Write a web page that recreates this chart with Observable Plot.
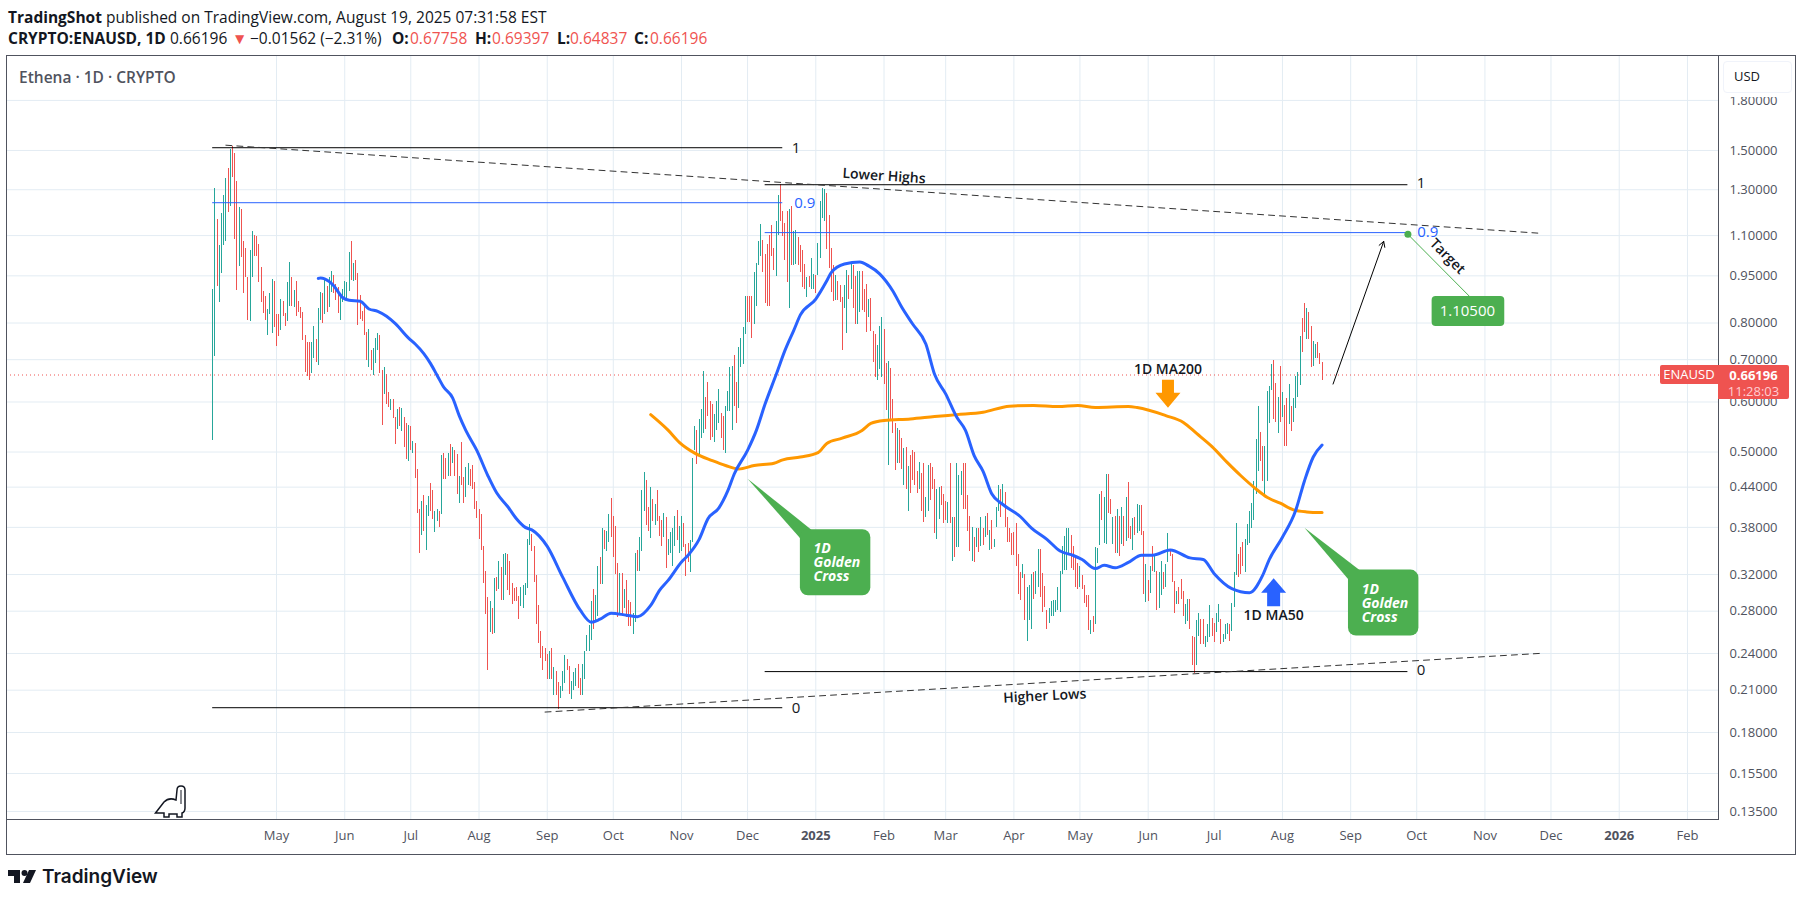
<!DOCTYPE html>
<html>
<head>
<meta charset="utf-8">
<script src="https://cdn.jsdelivr.net/npm/d3@7"></script>
<script src="https://cdn.jsdelivr.net/npm/@observablehq/plot@0.6"></script>
<style>
  html, body { margin: 0; background: #fff; }
  #page { position: relative; width: 1804px; height: 901px; overflow: hidden; font-family: "Open Sans", sans-serif; color: #131722; }
  #page > span, #page > div { position: absolute; white-space: nowrap; }
  #chart { left: 0; top: 55px; }
  #chart svg { background: transparent; display: block; }
  .hd { font-size: 15.5px; line-height: 16px; }
  .b { font-weight: 700; }
  .r { color: #ef5350; }
</style>
</head>
<body>
<div id="page">
  <span class="hd" style="left:8px;top:9px"><span class="b">TradingShot</span> published on TradingView.com, August 19, 2025 07:31:58 EST</span>
  <span class="hd b" style="left:8px;top:30px">CRYPTO:ENAUSD, 1D</span>
  <span class="hd" style="left:170px;top:30px">0.66196</span>
  <span class="hd r" style="left:232px;top:30px">▼</span>
  <span class="hd" style="left:250px;top:30px">−0.01562 (−2.31%)</span>
  <span class="hd b" style="left:392px;top:30px">O:</span><span class="hd r" style="left:410px;top:30px">0.67758</span>
  <span class="hd b" style="left:475px;top:30px">H:</span><span class="hd r" style="left:492px;top:30px">0.69397</span>
  <span class="hd b" style="left:557px;top:30px">L:</span><span class="hd r" style="left:570px;top:30px">0.64837</span>
  <span class="hd b" style="left:634px;top:30px">C:</span><span class="hd r" style="left:650px;top:30px">0.66196</span>
  <div id="chart"></div>
  <div style="left:6px;top:55px;width:1788px;height:798px;border:1px solid #50535e"></div>
  <span style="left:19px;top:68px;font-size:15.5px;line-height:18px;font-weight:600;color:#50535e">Ethena · 1D · CRYPTO</span>
  <div style="left:1719px;top:56px;width:75px;height:41px;background:#fff"></div>
  <div style="left:1723px;top:61px;width:67px;height:30px;border:1px solid #f0f3fa;border-radius:4px;background:#fff"></div>
  <span style="left:1734px;top:67px;font-size:13px;line-height:18px">USD</span>
  <div style="left:1660px;top:365px;width:58px;height:19px;background:#ef5350;border-radius:2px 0 0 2px;color:#fff;font-size:13px;line-height:19px;text-align:center">ENAUSD</div>
  <div style="left:1718px;top:365px;width:71px;height:34px;background:#ef5350;border-radius:0 2px 2px 0;color:#fff;font-size:13px;line-height:16px;text-align:center"><div style="font-weight:700;margin-top:2px">0.66196</div><div style="color:#ffcdd2">11:28:03</div></div>
  <svg style="position:absolute;left:150px;top:782px" width="40" height="38" viewBox="0 0 40 38">
    <path d="M5.500 31 L14 20 Q19 15 26 18 L27 8 Q27 4 31 4 Q35 4 35 8 L35 26 Q35 30 32 31 L32 35 L27 35 L27 32 L19 32 L19 35 L14 35 L14 31 Z" fill="#fff" stroke="#131722" stroke-width="1.5"/>
    <path d="M31 8 L31 22" fill="none" stroke="#131722" stroke-width="1"/>
  </svg>
  <svg style="position:absolute;left:8px;top:869px" width="30" height="16" viewBox="0 0 30 16">
    <path d="M0 1 H12 V14 H6 V7 H0 Z" fill="#131722"/><circle cx="16.500" cy="4" r="3" fill="#131722"/>
    <path d="M21 1 H28 L22 14 H15 Z" fill="#131722"/>
  </svg>
  <span style="left:42px;top:864px;font-family:Inter,sans-serif;font-weight:600;font-size:19px;line-height:26px;color:#131722">TradingView</span>
</div>
<script>
const plotFont = '"Open Sans", sans-serif'

// daily candles, first one on this date
const firstCandle = '2024-04-02'
const candleHigh = [
  .905,1.305,1.167,1.060,1.191,1.272,1.355,1.403,1.505,1.522,
  1.486,1.342,1.220,1.211,1.075,1.051,.945,1.040,1.116,1.102,
  1.095,1.064,.981,.898,.881,.840,.890,.938,.931,.825,
  .825,.872,.865,.828,.928,.999,.945,.901,.931,.865,
  .846,.831,.765,.745,.745,.745,.789,.753,.843,.895,
  .890,.933,.914,.945,.966,.950,.920,.910,.890,.905,
  .931,.928,1.035,1.078,.993,1.003,.958,.885,.834,.852,
  .772,.782,.725,.728,.755,.769,.765,.672,.680,.663,
  .620,.606,.606,.568,.584,.589,.586,.568,.554,.550,
  .548,.520,.516,.470,.405,.418,.427,.412,.425,.446,
  .435,.402,.405,.403,.494,.498,.489,.498,.514,.508,
  .503,.496,.458,.518,.456,.473,.480,.469,.476,.448,
  .417,.405,.398,.355,.324,.294,.290,.283,.315,.316,
  .336,.328,.344,.346,.344,.336,.310,.304,.305,.295,
  .305,.308,.310,.364,.384,.370,.354,.319,.286,.260,
  .246,.244,.239,.242,.244,.228,.225,.216,.213,.225,
  .238,.235,.229,.217,.224,.227,.231,.219,.231,.242,
  .256,.266,.290,.303,.296,.329,.341,.378,.376,.374,
  .398,.422,.396,.381,.333,.321,.321,.303,.313,.291,
  .289,.278,.345,.349,.366,.434,.464,.451,.409,.440,
  .420,.413,.435,.396,.389,.399,.394,.364,.373,.378,
  .396,.404,.381,.395,.385,.357,.358,.362,.488,.548,
  .540,.562,.583,.670,.611,.645,.600,.594,.573,.600,
  .627,.576,.569,.590,.623,.680,.683,.711,.643,.731,
  .755,.786,.881,.881,.881,.881,.963,.994,1.075,1.144,
  1.080,1.026,1.064,1.100,1.140,1.051,1.158,1.275,1.325,1.199,
  1.150,1.203,1.210,1.224,1.116,1.122,1.092,1.062,1.040,.990,
  .945,.949,1.011,.955,.951,1.069,1.247,1.305,1.302,1.284,
  1.184,1.049,.987,.951,.931,.916,.879,.916,.969,.951,
  .995,.987,.949,.966,.964,.966,.905,.920,.872,.875,
  .777,.767,.738,.791,.816,.781,.690,.695,.677,.606,
  .555,.545,.540,.525,.506,.508,.474,.494,.503,.500,
  .465,.482,.462,.479,.424,.476,.479,.473,.453,.437,
  .440,.441,.429,.418,.416,.479,.394,.394,.479,.459,
  .466,.479,.480,.427,.395,.380,.366,.379,.378,.394,
  .378,.396,.399,.376,.389,.363,.409,.442,.437,.445,
  .432,.394,.378,.371,.373,.385,.344,.322,.332,.320,
  .305,.308,.320,.322,.324,.350,.350,.321,.306,.281,
  .283,.290,.291,.291,.305,.324,.355,.367,.378,.379,
  .369,.355,.341,.333,.329,.319,.308,.297,.297,.271,
  .275,.353,.352,.428,.433,.423,.460,.460,.421,.394,
  .396,.405,.396,.408,.396,.423,.447,.381,.392,.394,
  .413,.412,.412,.375,.332,.313,.330,.355,.344,.324,
  .322,.336,.322,.332,.372,.351,.344,.312,.301,.305,
  .314,.301,.287,.292,.292,.255,.254,.271,.278,.272,
  .272,.255,.267,.286,.273,.268,.278,.287,.272,.257,
  .267,.268,.267,.288,.322,.386,.344,.353,.360,.363,
  .384,.403,.415,.449,.523,.591,.536,.510,.510,.624,
  .635,.687,.697,.642,.609,.682,.621,.593,.607,.640,
  .591,.607,.658,.669,.763,.812,.858,.842,.830,.789,
  .749,.740,.745,.716,.694]
const candleLow = [
  .521,.707,.914,.863,.959,1.060,1.075,1.198,1.224,1.358,
  1.083,.901,.984,1.017,.890,.943,.806,.803,.945,1.021,
  1.021,.928,.863,.828,.807,.765,.825,.769,.786,.734,
  .763,.778,.819,.789,.804,.849,.849,.846,.819,.831,
  .812,.750,.667,.658,.648,.665,.704,.694,.686,.806,
  .798,.826,.831,.846,.895,.890,.867,.828,.807,.863,
  .872,.867,.898,.935,.931,.935,.792,.810,.804,.765,
  .697,.680,.672,.660,.690,.723,.665,.551,.617,.595,
  .589,.581,.565,.514,.542,.548,.538,.509,.487,.483,
  .503,.498,.454,.400,.346,.369,.375,.349,.396,.403,
  .391,.373,.388,.380,.398,.453,.453,.458,.458,.480,
  .457,.429,.414,.443,.414,.423,.443,.441,.437,.406,
  .392,.364,.349,.310,.277,.226,.259,.257,.258,.301,
  .303,.291,.291,.319,.302,.296,.287,.290,.290,.272,
  .285,.283,.297,.304,.356,.348,.311,.267,.249,.236,
  .226,.233,.218,.218,.218,.206,.206,.196,.204,.209,
  .215,.226,.207,.203,.210,.213,.211,.206,.206,.218,
  .242,.242,.252,.262,.271,.275,.309,.309,.350,.348,
  .359,.366,.340,.320,.274,.276,.275,.283,.274,.265,
  .265,.257,.269,.323,.323,.348,.402,.382,.374,.365,
  .388,.382,.388,.367,.355,.366,.327,.343,.346,.329,
  .355,.362,.346,.348,.353,.318,.334,.322,.360,.502,
  .477,.490,.525,.535,.542,.569,.522,.528,.518,.541,
  .555,.525,.503,.498,.580,.580,.541,.590,.555,.586,
  .680,.687,.767,.801,.801,.755,.796,.849,.987,1.021,
  .963,.860,.849,.851,1.021,.969,.948,1.100,1.158,1.095,
  1.006,.928,.842,.987,.987,.990,.987,.963,.910,.905,
  .877,.910,.905,.905,.891,.951,1.013,1.172,1.158,1.044,
  .976,.895,.864,.867,.867,.862,.723,.842,.769,.872,
  .905,.842,.796,.796,.831,.836,.831,.772,.816,.777,
  .694,.657,.649,.676,.657,.640,.582,.476,.562,.535,
  .467,.480,.479,.469,.443,.436,.403,.430,.451,.443,
  .430,.437,.403,.387,.394,.403,.419,.437,.371,.364,
  .391,.411,.385,.389,.385,.385,.336,.341,.353,.353,
  .427,.406,.406,.375,.348,.336,.334,.353,.347,.355,
  .356,.366,.369,.349,.351,.353,.380,.403,.394,.414,
  .380,.360,.360,.343,.343,.330,.298,.291,.315,.271,
  .251,.271,.262,.292,.298,.305,.294,.279,.284,.262,
  .268,.275,.275,.279,.281,.279,.320,.325,.325,.344,
  .327,.325,.305,.303,.305,.303,.288,.284,.261,.257,
  .259,.267,.333,.356,.389,.358,.357,.399,.398,.357,
  .346,.346,.342,.357,.354,.361,.365,.363,.349,.369,
  .372,.374,.369,.298,.289,.290,.299,.324,.322,.281,
  .283,.297,.303,.305,.334,.342,.311,.278,.287,.287,
  .292,.275,.267,.270,.262,.230,.223,.230,.255,.248,
  .248,.245,.250,.254,.255,.250,.259,.269,.248,.250,
  .253,.257,.251,.260,.284,.319,.316,.320,.329,.322,
  .356,.358,.379,.390,.428,.466,.483,.449,.425,.449,
  .554,.625,.563,.556,.534,.556,.567,.510,.510,.553,
  .539,.556,.585,.610,.638,.718,.773,.753,.753,.681,
  .683,.703,.703,.688,.648]
// 1 = green candle, 0 = red candle
const candleUp = (
  '1101111010' + '0010000110' + '0000011100' + '0100110100' + '0000011011' +
  '0101100011' + '1110100000' + '0101110010' + '0100101001' + '0100010110' +
  '0110100101' + '0010011000' + '0000001010' + '1011000000' + '1111100000' +
  '0001010011' + '1001110011' + '1110110101' + '1000010100' + '0110111001' +
  '0100010111' + '1011000111' + '0111000011' + '1001111001' + '1110001111' +
  '0000001100' + '0010110000' + '1011011110' + '0001000110' + '1001100010' +
  '0011100100' + '0100101000' + '0100110001' + '1000101011' + '1000010101' +
  '0101011101' + '0000000010' + '1110110000' + '1111111111' + '0000100001' +
  '0111011001' + '0101010010' + '1100101010' + '1101100010' + '0011000110' +
  '0111001101' + '1101110001' + '1111110011' + '1100101001' + '0111100100' + '11000'
).split('').map(Number)

const lastClose = 0.66196

const ma50Dates = ['2024-05-20','2024-05-21','2024-05-25','2024-05-27','2024-05-31','2024-06-03','2024-06-08','2024-06-12','2024-06-16','2024-06-20','2024-06-24','2024-06-30','2024-07-03','2024-07-07','2024-07-10','2024-07-13','2024-07-16','2024-07-20','2024-07-23','2024-07-26','2024-07-31','2024-08-05','2024-08-09','2024-08-14','2024-08-18','2024-08-22','2024-08-25','2024-09-01','2024-09-08','2024-09-16','2024-09-21','2024-09-25','2024-09-30','2024-10-07','2024-10-12','2024-10-18','2024-10-22','2024-10-26','2024-11-01','2024-11-04','2024-11-09','2024-11-13','2024-11-18','2024-11-22','2024-11-25','2024-12-01','2024-12-05','2024-12-09','2024-12-14','2024-12-18','2024-12-22','2024-12-25','2025-01-01','2025-01-06','2025-01-08','2025-01-14','2025-01-21','2025-01-25','2025-01-30','2025-02-05','2025-02-09','2025-02-14','2025-02-20','2025-02-24','2025-03-01','2025-03-06','2025-03-10','2025-03-14','2025-03-18','2025-03-22','2025-03-27','2025-04-04','2025-04-09','2025-04-16','2025-04-22','2025-04-28','2025-05-02','2025-05-08','2025-05-12','2025-05-17','2025-05-23','2025-05-29','2025-06-03','2025-06-11','2025-06-20','2025-06-26','2025-07-01','2025-07-09','2025-07-17','2025-07-23','2025-07-26','2025-08-01','2025-08-07','2025-08-11','2025-08-15','2025-08-19']
const ma50Values = [.941,.943,.93,.916,.878,.869,.866,.842,.835,.82,.798,.757,.741,.715,.69,.661,.633,.609,.571,.541,.503,.459,.431,.41,.392,.38,.3765,.3545,.317,.281,.269,.272,.278,.276,.2745,.286,.302,.3135,.335,.3434,.3637,.392,.408,.434,.462,.503,.541,.596,.663,.724,.779,.824,.873,.933,.961,.992,.999,.985,.957,.899,.848,.797,.741,.663,.618,.568,.541,.493,.466,.429,.413,.395,.379,.3637,.3486,.343,.338,.327,.331,.328,.3345,.3434,.3434,.35,.34,.338,.321,.304,.2995,.319,.338,.3665,.404,.45,.491,.513]

const ma200Dates = ['2024-10-18','2024-10-26','2024-10-31','2024-11-07','2024-11-15','2024-11-21','2024-11-27','2024-12-04','2024-12-13','2024-12-17','2024-12-25','2025-01-02','2025-01-06','2025-01-13','2025-01-22','2025-01-26','2025-02-01','2025-02-13','2025-02-24','2025-03-06','2025-03-18','2025-03-30','2025-04-10','2025-04-21','2025-04-30','2025-05-08','2025-05-23','2025-05-27','2025-06-09','2025-06-17','2025-06-23','2025-06-30','2025-07-07','2025-07-13','2025-07-20','2025-07-25','2025-07-31','2025-08-06','2025-08-12','2025-08-19']
const ma200Values = [.573,.541,.518,.498,.4845,.476,.47,.476,.48,.486,.491,.499,.516,.526,.541,.555,.561,.564,.569,.573,.578,.591,.5925,.59,.5925,.588,.59,.588,.571,.557,.535,.51,.481,.459,.437,.424,.415,.405,.402,.401]

const priceTicks = [1.8,1.5,1.3,1.1,.95,.8,.7,.6,.5,.44,.38,.32,.28,.24,.21,.18,.155,.135]
const monthTicks = ['2024-05-01','2024-06-01','2024-07-01','2024-08-01','2024-09-01','2024-10-01','2024-11-01','2024-12-01','2025-02-01','2025-03-01','2025-04-01','2025-05-01','2025-06-01','2025-07-01','2025-08-01','2025-09-01','2025-10-01','2025-11-01','2025-12-01','2026-02-01']
const yearTicks = ['2025-01-01','2026-01-01']

// drawings on the chart: [start, end, price]
const fibBlack = [['2024-04-02','2024-12-17',1.515],['2024-04-02','2024-12-17',.197],['2024-12-09','2025-09-27',1.324],['2024-12-09','2025-09-27',.2247]]
const fibBlue = [['2024-04-02','2024-12-17',1.24],['2024-12-09','2025-09-27',1.112]]
const fibLabels = [['2024-12-23',1.515,'1','#131722'],['2024-12-27',1.24,'0.9','#2962ff'],['2024-12-23',.197,'0','#131722'],['2025-10-03',1.331,'1','#131722'],['2025-10-06',1.113,'0.9','#2962ff'],['2025-10-03',.2255,'0','#131722']]
const lowerHighs = [['2024-04-08',1.529],['2025-11-25',1.11]]
const higherLows = [['2024-08-31',.1939],['2025-11-26',.2401]]
const targetLine = [['2025-09-27',1.105],['2025-10-25',.8814]]
const tailLeft = [['2024-12-01',.4538],['2024-12-30',.3768],['2024-12-25',.365]]
const tailRight = [['2025-08-11',.3796],['2025-09-05',.3252],['2025-08-31',.3144]]
const calloutBoxes = [['2024-12-25','2025-01-26',.3768,.2962],['2025-08-31','2025-10-02',.3252,.2557]]
const targetBox = [['2025-10-08','2025-11-10',.8814,.7902]]
const calloutText = [['2024-12-31',.3519,'1D'],['2024-12-31',.3344,'Golden'],['2024-12-31',.3178,'Cross'],['2025-09-06',.3035,'1D'],['2025-09-06',.2883,'Golden'],['2025-09-06',.2741,'Cross']]

const toDate = s => new Date(s)
const candles = candleHigh.map((h, i) => ({
  date: d3.utcDay.offset(toDate(firstCandle), i),
  high: h,
  low: candleLow[i],
  up: candleUp[i] === 1
}))
const pairs = (ds, vs) => ds.map((d, i) => ({date: toDate(d), value: vs[i]}))
const pts = a => a.map(d => ({date: toDate(d[0]), value: d[1]}))
const fibs = a => a.map(d => ({x1: toDate(d[0]), x2: toDate(d[1]), y: d[2]}))

// block arrows, tip sits on the anchor point
const arrowDown = {draw(c) { c.moveTo(0,0); c.lineTo(-12.5,-15); c.lineTo(-6,-15); c.lineTo(-6,-28); c.lineTo(6,-28); c.lineTo(6,-15); c.lineTo(12.5,-15); c.closePath() }}
const arrowUp = {draw(c) { c.moveTo(0,0); c.lineTo(-12.5,14.500); c.lineTo(-6.500,14.500); c.lineTo(-6.500,28); c.lineTo(6.500,28); c.lineTo(6.500,14.500); c.lineTo(12.5,14.500); c.closePath() }}

const green = '#4caf50', blue = '#2962ff', orange = '#ff9800', gridColor = '#e3ecf3', ink = '#131722'
const dash = {stroke: '#333', strokeWidth: 1, strokeDasharray: '6 5'}
const xy = {x: 'date', y: 'value'}
const labelStyle = {fontSize: 14, fontWeight: 600, fill: ink, stroke: 'none'}
const boxPos = {x1: d => toDate(d[0]), x2: d => toDate(d[1]), y1: d => d[3], y2: d => d[2], fill: green}

const chart = Plot.plot({
  width: 1804,
  height: 799,
  marginTop: 0,
  marginBottom: 35,
  marginLeft: 6,
  marginRight: 86,
  style: {fontFamily: plotFont, background: 'transparent'},
  x: {type: 'utc', domain: [new Date('2023-12-30T08:00Z'), new Date('2026-02-15T02:30Z')]},
  y: {type: 'log', domain: [.1311, 2.12]},
  marks: [
    Plot.gridX(monthTicks.concat(yearTicks).map(toDate), {stroke: gridColor, strokeOpacity: 1}),
    Plot.gridY(priceTicks, {stroke: gridColor, strokeOpacity: 1}),
    Plot.frame({stroke: '#50535e'}),
    Plot.axisY(priceTicks, {anchor: 'right', tickSize: 0, tickPadding: 11, fontSize: 13, fill: '#50535e', label: null, tickFormat: d => d.toFixed(5)}),
    Plot.axisX(monthTicks.map(toDate), {anchor: 'bottom', tickSize: 0, tickPadding: 11, fontSize: 13, fill: '#50535e', label: null, tickFormat: d3.utcFormat('%b')}),
    Plot.axisX(yearTicks.map(toDate), {anchor: 'bottom', tickSize: 0, tickPadding: 11, fontSize: 13, fontWeight: 700, fill: '#50535e', label: null, tickFormat: d3.utcFormat('%Y')}),

    Plot.ruleY([lastClose], {stroke: '#ef5350', strokeDasharray: '1 3'}),

    Plot.ruleX(candles, {filter: d => d.up, x: 'date', y1: 'low', y2: 'high', stroke: '#26a69a', strokeWidth: 1, shapeRendering: 'crispEdges'}),
    Plot.ruleX(candles, {filter: d => !d.up, x: 'date', y1: 'low', y2: 'high', stroke: '#ef5350', strokeWidth: 1, shapeRendering: 'crispEdges'}),

    Plot.line(pairs(ma200Dates, ma200Values), {...xy, stroke: orange, strokeWidth: 3, curve: 'monotone-x'}),
    Plot.line(pairs(ma50Dates, ma50Values), {...xy, stroke: blue, strokeWidth: 3, curve: 'monotone-x'}),

    Plot.ruleY(fibs(fibBlack), {x1: 'x1', x2: 'x2', y: 'y', stroke: '#000', strokeWidth: 1}),
    Plot.ruleY(fibs(fibBlue), {x1: 'x1', x2: 'x2', y: 'y', stroke: blue, strokeWidth: 1}),
    Plot.text(fibLabels, {x: d => toDate(d[0]), y: d => d[1], text: d => d[2], fill: d => d[3], fontSize: 15}),

    Plot.line(pts(lowerHighs), {...xy, ...dash}),
    Plot.line(pts(higherLows), {...xy, ...dash}),
    Plot.text(['Lower Highs'], {x: toDate('2025-02-01'), y: 1.366, rotate: 3.8, ...labelStyle}),
    Plot.text(['Higher Lows'], {x: toDate('2025-04-15'), y: .2056, rotate: -3, ...labelStyle}),

    Plot.arrow([{x1: toDate('2025-08-24'), y1: .6405, x2: toDate('2025-09-16'), y2: 1.077}], {x1: 'x1', y1: 'y1', x2: 'x2', y2: 'y2', stroke: '#000', strokeWidth: 1, headLength: 9}),

    Plot.line(pts(targetLine), {...xy, stroke: green, strokeWidth: 1}),
    Plot.dot(pts(targetLine.slice(0, 1)), {...xy, fill: green, r: 3.5}),
    Plot.text(['Target'], {x: toDate('2025-10-15'), y: 1.0197, rotate: 45, ...labelStyle}),

    Plot.line(pts(tailLeft), {...xy, fill: green, stroke: 'none'}),
    Plot.line(pts(tailRight), {...xy, fill: green, stroke: 'none'}),
    Plot.rect(calloutBoxes, {...boxPos, rx: 8}),
    Plot.rect(targetBox, {...boxPos, rx: 4}),
    Plot.text(calloutText, {x: d => toDate(d[0]), y: d => d[1], text: d => d[2], fill: '#fff', fontSize: 14, fontWeight: 700, fontStyle: 'italic', textAnchor: 'start'}),
    Plot.text(['1.10500'], {x: toDate('2025-10-24'), y: .8361, fill: '#fff', fontSize: 15}),

    Plot.dot([{date: toDate('2025-06-10'), value: .5876}], {...xy, r: 1, symbol: arrowDown, fill: orange, stroke: 'none'}),
    Plot.dot([{date: toDate('2025-07-28'), value: .3156}], {...xy, r: 1, symbol: arrowUp, fill: blue, stroke: 'none'}),
    Plot.text(['1D MA200'], {x: toDate('2025-06-10'), y: .675, ...labelStyle}),
    Plot.text(['1D MA50'], {x: toDate('2025-07-28'), y: .276, ...labelStyle})
  ]
})

d3.select('#chart').append(() => chart)
</script>
</body>
</html>
